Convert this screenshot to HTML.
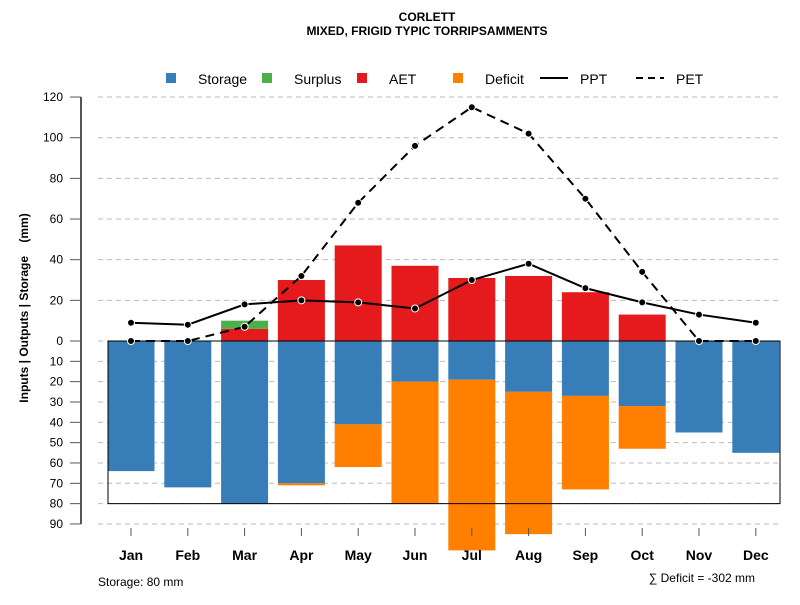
<!DOCTYPE html>
<html><head><meta charset="utf-8"><style>
body{margin:0;background:#fff;font-family:"Liberation Sans",Arial,sans-serif}
</style></head><body>
<svg id="c" width="800" height="600" xmlns="http://www.w3.org/2000/svg" font-family="Liberation Sans, Arial, sans-serif">
<text x="427" y="21" text-anchor="middle" font-size="12" font-weight="bold">CORLETT</text>
<text x="427" y="35" text-anchor="middle" font-size="12" font-weight="bold">MIXED, FRIGID TYPIC TORRIPSAMMENTS</text>
<g id="legend" font-size="14">
<g><rect x="166" y="73" width="10" height="10" fill="#377eb8"/><text x="198" y="84">Storage</text></g>
<g><rect x="262" y="73" width="10" height="10" fill="#4daf4a"/><text x="294" y="84">Surplus</text></g>
<g><rect x="357" y="73" width="10" height="10" fill="#e41a1c"/><text x="389" y="84">AET</text></g>
<g><rect x="453" y="73" width="10" height="10" fill="#ff7f00"/><text x="485" y="84">Deficit</text></g>
<g><line x1="540" y1="78" x2="568" y2="78" stroke="#000" stroke-width="2"/><text x="580" y="84">PPT</text></g>
<g><line x1="636" y1="78" x2="664" y2="78" stroke="#000" stroke-width="2" stroke-dasharray="7,5"/><text x="676" y="84">PET</text></g>
</g>
<text transform="translate(28,308) rotate(-90)" text-anchor="middle" font-size="12" font-weight="bold">Inputs | Outputs | Storage&#160;&#160;&#160;&#160;(mm)</text>
<text x="98" y="586" font-size="12">Storage: 80 mm</text>
<text x="755" y="582" text-anchor="end" font-size="12">∑ Deficit = -302 mm</text>
<g id="grid"></g><g id="bars"></g><g id="lines"></g><g id="axes"></g>
</svg>
<script>
const months=["Jan","Feb","Mar","Apr","May","Jun","Jul","Aug","Sep","Oct","Nov","Dec"];
const storage=[64,72,80,70,41,20,19,25,27,32,45,55];
const deficit=[0,0,0,1,21,60,84,70,46,21,0,0];
const aet=[0,0,6,30,47,37,31,32,24,13,0,0];
const surplus=[0,0,4,0,0,0,0,0,0,0,0,0];
const ppt=[9,8,18,20,19,16,30,38,26,19,13,9];
const pet=[0,0,7,32,68,96,115,102,70,34,0,0];
const posTicks=[0,20,40,60,80,100,120];
const negTicks=[10,20,30,40,50,60,70,80,90];
const storageCap=80;
const NS="http://www.w3.org/2000/svg";
const Y0=341,K=2.033;
const y=v=>Y0-v*K;
const x=i=>131+i*56.8;
const BW=47;
function mk(p,t,a){const e=document.createElementNS(NS,t);for(const k in a)e.setAttribute(k,a[k]);document.getElementById(p).appendChild(e);return e;}
const allT=posTicks.map(v=>v).concat(negTicks.map(v=>-v));
allT.forEach(v=>{
 const g=mk('grid','line',{x1:98,x2:780,y1:y(v),y2:y(v),stroke:'#bbb','stroke-dasharray':'5,4'});
 
 
 const t=mk('axes','line',{x1:70,x2:81,y1:y(v),y2:y(v),stroke:'#555'});
 
 
 const l=mk('axes','text',{x:63,y:y(v)+4,'text-anchor':'end','font-size':12});
 l.textContent=Math.abs(v);
 
 
});
const ax=mk('axes','line',{x1:81,x2:81,y1:y(120),y2:y(-90),stroke:'#555','stroke-width':2});


months.forEach((m,i)=>{
 const r=(n,v0,v1,c)=>{const e=mk('bars','rect',{x:x(i)-BW/2,y:y(Math.max(v0,v1)),width:BW,height:Math.abs(v1-v0)*K,fill:c});};
 if(storage[i])r('storage-bar',0,-storage[i],'#377eb8');
 if(deficit[i])r('deficit-bar',-storage[i],-storage[i]-deficit[i],'#ff7f00');
 if(aet[i])r('aet-bar',0,aet[i],'#e41a1c');
 if(surplus[i])r('surplus-bar',aet[i],aet[i]+surplus[i],'#4daf4a');
 const t=mk('axes','line',{x1:x(i),x2:x(i),y1:528,y2:536,stroke:'#555'});
 
 
 const l=mk('axes','text',{x:x(i),y:560,'text-anchor':'middle','font-size':14,'font-weight':'bold'});
 l.textContent=m;
 
 
});
const box=mk('bars','rect',{x:108,y:y(0),width:672,height:storageCap*K,fill:'none',stroke:'#000','stroke-width':1});


function series(arr,name,dash){
 const p=mk('lines','polyline',{points:arr.map((v,i)=>x(i)+','+y(v)).join(' '),fill:'none',stroke:'#000','stroke-width':2,'stroke-dasharray':dash});
 
 
 arr.forEach((v,i)=>{const c=mk('lines','circle',{cx:x(i),cy:y(v),r:3.5,fill:'#000',stroke:'#fff','stroke-width':1});
 
 });
}
series(ppt,'ppt','none');
series(pet,'pet','9,6');
</script>
</body></html>
